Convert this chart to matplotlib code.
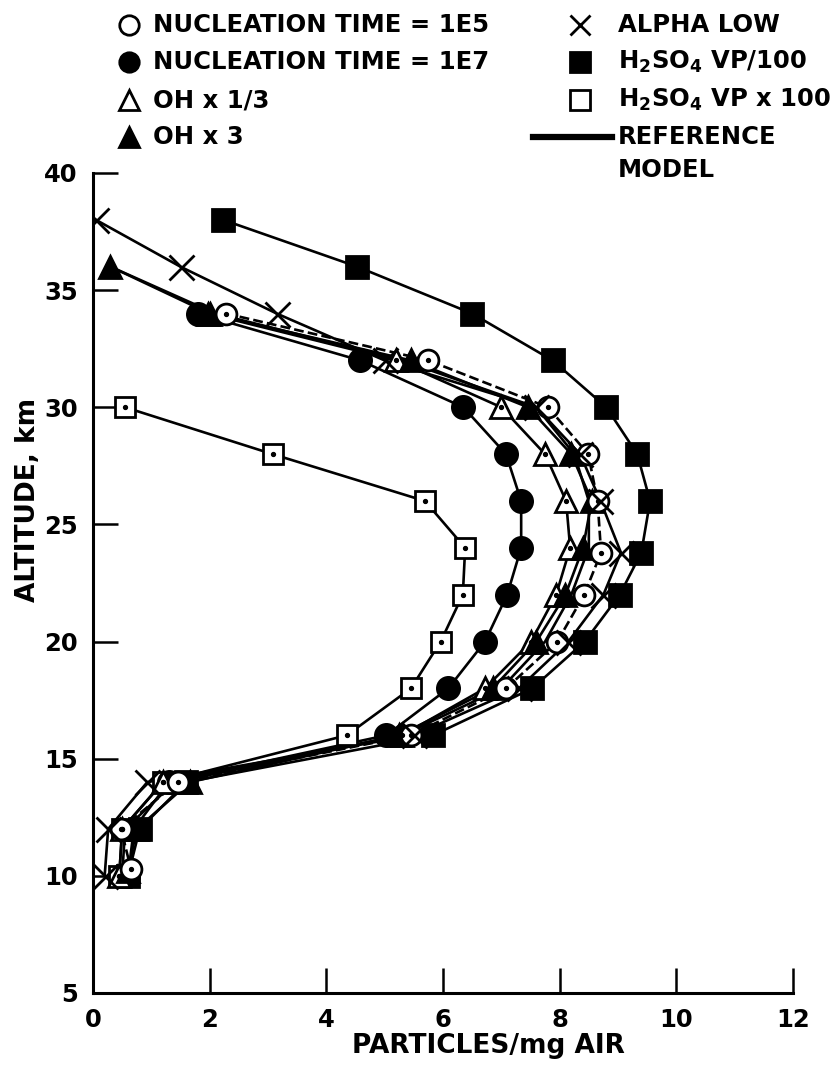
import matplotlib
matplotlib.use('Agg')
import matplotlib.pyplot as plt

# altitude profiles, km  /  particles per mg air
alt_n5 = [34, 32, 30, 28, 26, 23.8, 22, 20, 18, 16, 14, 12, 10.3]
x_n5 = [2.28, 5.75, 7.8, 8.49, 8.65, 8.71, 8.42, 7.96, 7.08, 5.45, 1.45, 0.48, 0.65]

alt_n7 = [34, 32, 30, 28, 26, 24, 22, 20, 18, 16, 14, 12, 10]
x_n7 = [1.8, 4.58, 6.35, 7.08, 7.34, 7.34, 7.1, 6.72, 6.09, 5.03, 1.3, 0.7, 0.6]

alt_oh_lo = [34, 32, 30, 28, 26, 24, 22, 20, 18, 16, 14, 12, 10]
x_oh_lo = [1.97, 5.2, 7.0, 7.75, 8.11, 8.18, 7.94, 7.51, 6.72, 5.3, 1.2, 0.5, 0.45]

alt_oh_hi = [36, 34, 32, 30, 28, 26, 24, 22, 20, 18, 16, 14, 12, 10.2]
x_oh_hi = [0.3, 2.0, 5.45, 7.46, 8.2, 8.55, 8.4, 8.1, 7.6, 6.85, 5.25, 1.66, 0.75, 0.6]

alt_alpha = [38, 36, 34, 32, 30, 28, 26, 23.8, 22, 20, 18, 16, 14, 12, 10]
x_alpha = [0.05, 1.5, 3.15, 5.0, 7.6, 8.35, 8.7, 9.05, 8.75, 8.15, 7.3, 5.5, 0.93, 0.26, 0.2]

alt_vp_lo = [38, 36, 34, 32, 30, 28, 26, 23.8, 22, 20, 18, 16, 14, 12, 10]
x_vp_lo = [2.23, 4.53, 6.5, 7.88, 8.8, 9.33, 9.55, 9.4, 9.03, 8.43, 7.53, 5.83, 1.6, 0.8, 0.6]

alt_vp_hi = [30, 28, 26, 24, 22, 20, 18, 16, 14, 12, 10]
x_vp_hi = [0.55, 3.08, 5.69, 6.38, 6.34, 5.96, 5.45, 4.35, 1.2, 0.5, 0.45]

alt_ref = [36, 34, 32, 30, 28, 26, 24, 22, 20, 18, 16, 14, 12, 10]
x_ref = [0.3, 2.1, 5.3, 7.6, 8.25, 8.5, 8.5, 8.2, 7.75, 7.0, 5.3, 1.4, 0.55, 0.5]

plt.rcParams['font.family'] = ['DejaVu Sans']
plt.rcParams['font.weight'] = 'bold'
plt.rcParams['mathtext.default'] = 'bf'
plt.rcParams['mathtext.fontset'] = 'dejavusans'

FS = 17.5
LW = 1.9
EW = 2.0

fig = plt.figure(figsize=(8.37, 10.72), dpi=100)
ax = fig.add_axes([93 / 837, 79 / 1072, 700 / 837, 820 / 1072])

# reference model, plain line
ax.plot(x_ref, alt_ref, color='black', lw=LW, zorder=2)

series = [
    (x_vp_hi, alt_vp_hi, 's', 'white', 15, '-', True),
    (x_vp_lo, alt_vp_lo, 's', 'black', 16, '-', False),
    (x_n7, alt_n7, 'o', 'black', 16, '-', False),
    (x_oh_lo, alt_oh_lo, '^', 'white', 16, '-', True),
    (x_oh_hi, alt_oh_hi, '^', 'black', 16, '-', False),
    (x_n5, alt_n5, 'o', 'white', 15, '--', True),
    (x_alpha, alt_alpha, 'x', 'black', 18, '-', False),
]
for xs, ys, mk, fc, ms, ls, dot in series:
    ax.plot(xs, ys, color='black', lw=LW, ls=ls, zorder=2)
    ax.plot(xs, ys, ls='none', marker=mk, ms=ms, mfc=fc, mec='black',
            mew=EW, zorder=3)
    if dot:
        ax.plot(xs, ys, ls='none', marker='o', ms=2.8, color='black', zorder=4)

ax.set_xlim(0, 12)
ax.set_ylim(5, 40)
ax.set_xticks(range(0, 13, 2))
ax.set_yticks(range(5, 41, 5))
for s in ['top', 'right']:
    ax.spines[s].set_visible(False)
for s in ['left', 'bottom']:
    ax.spines[s].set_linewidth(2.2)
ax.tick_params(axis='both', direction='in', length=18, width=1.8,
               labelsize=FS)
ax.tick_params(axis='y', pad=11)
ax.tick_params(axis='x', pad=11)
for lab in ax.get_xticklabels() + ax.get_yticklabels():
    lab.set_fontweight('bold')

# legend and axis titles drawn on a pixel-space overlay
lax = fig.add_axes([0, 0, 1, 1])
lax.set_xlim(0, 837)
lax.set_ylim(1072, 0)
lax.axis('off')

left_items = [
    ('o', 'white', 'NUCLEATION TIME = 1E5'),
    ('o', 'black', 'NUCLEATION TIME = 1E7'),
    ('^', 'white', 'OH x 1/3'),
    ('^', 'black', 'OH x 3'),
]
right_items = [
    ('x', 'black', 'ALPHA LOW'),
    ('s', 'black', 'H$_2$SO$_4$ VP/100'),
    ('s', 'white', 'H$_2$SO$_4$ VP x 100'),
]
rows = [25, 62, 100, 137]
for (mk, fc, txt), y in zip(left_items, rows):
    lax.plot([129], [y], marker=mk, ms=14, mfc=fc, mec='black', mew=EW)
    lax.text(153, y, txt, fontsize=FS, fontweight='bold', va='center', ha='left')
for (mk, fc, txt), y in zip(right_items, rows):
    lax.plot([580], [y], marker=mk, ms=14, mfc=fc, mec='black', mew=EW)
    lax.text(618, y, txt, fontsize=FS, fontweight='bold', va='center', ha='left')
lax.plot([533, 612], [rows[3], rows[3]], color='black', lw=4.5)
lax.text(618, rows[3], 'REFERENCE', fontsize=FS, fontweight='bold', va='center', ha='left')
lax.text(618, 170, 'MODEL', fontsize=FS, fontweight='bold', va='center', ha='left')

lax.text(28, 500, 'ALTITUDE, km', fontsize=19, fontweight='bold', rotation=90,
         va='center', ha='center')
lax.text(488, 1046, 'PARTICLES/mg AIR', fontsize=19, fontweight='bold',
         va='center', ha='center')

fig.savefig('out.png', dpi=100)
